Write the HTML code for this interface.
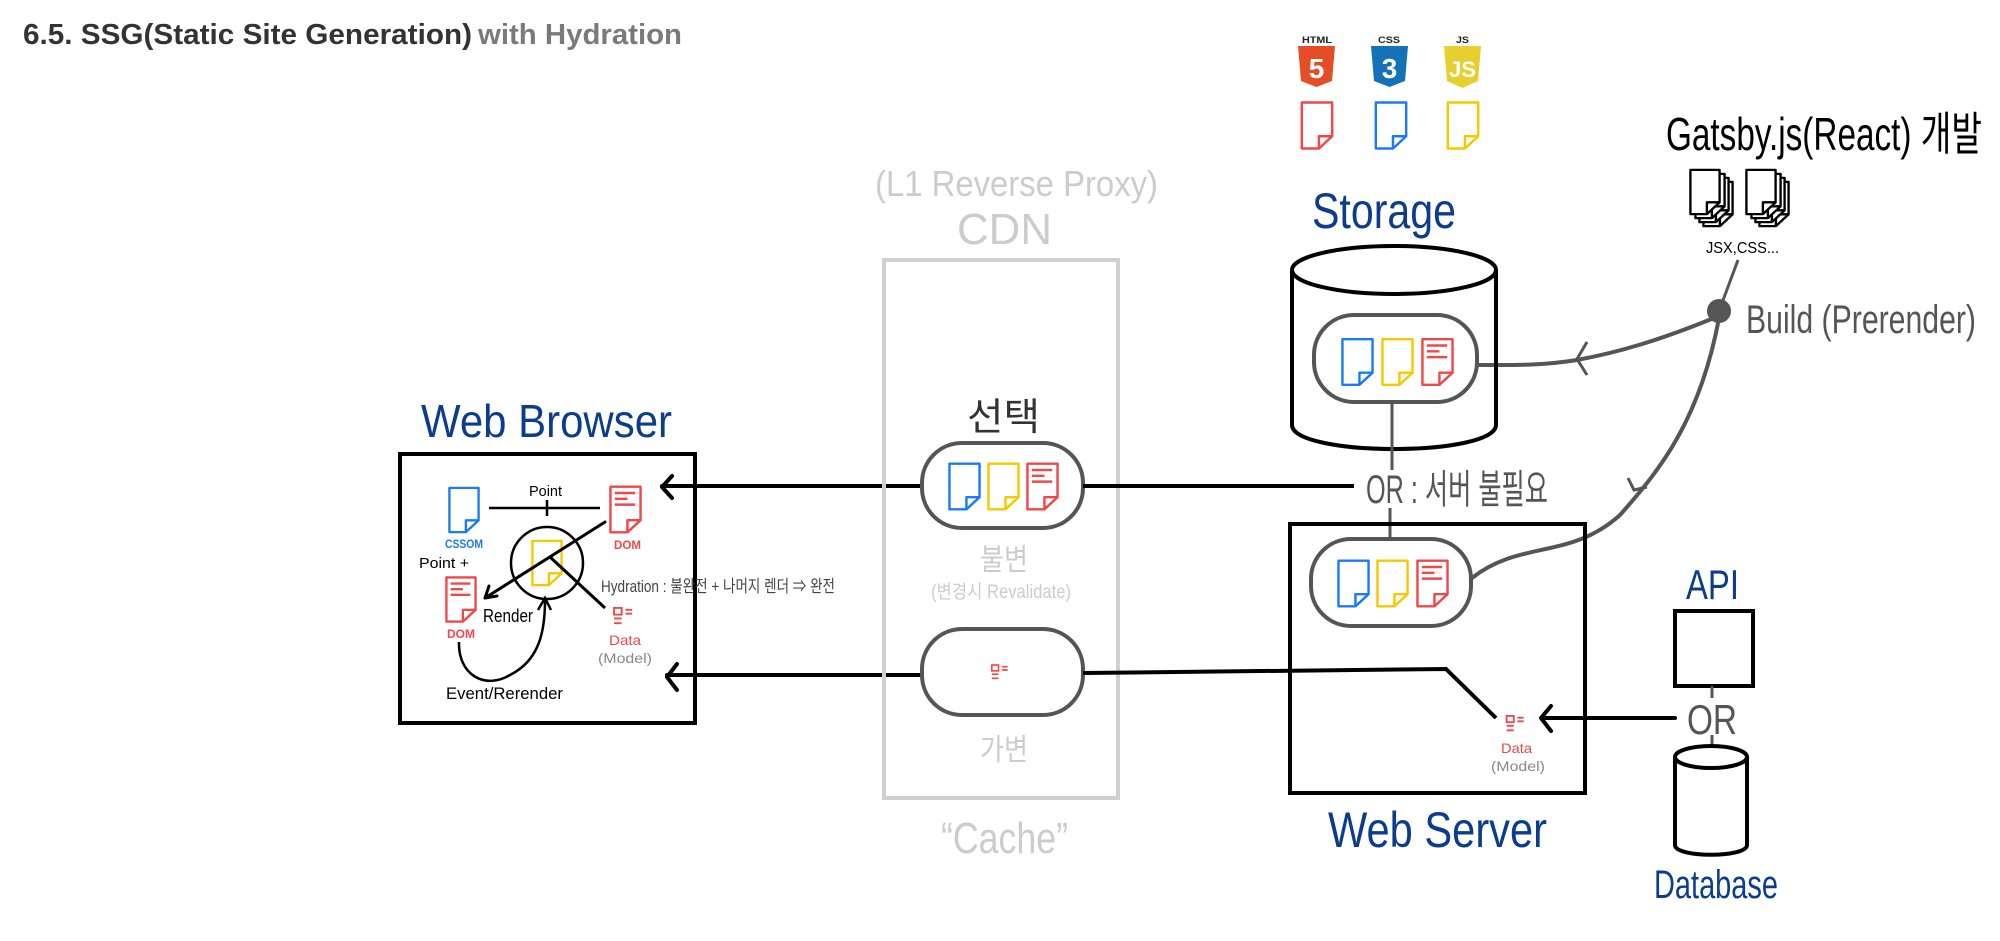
<!DOCTYPE html>
<html><head><meta charset="utf-8"><style>
html,body{margin:0;padding:0;background:#fff;width:2000px;height:941px;overflow:hidden}
svg{display:block}
text{font-family:"Liberation Sans","Noto Sans CJK KR",sans-serif}
</style></head><body>
<svg width="2000" height="941" viewBox="0 0 2000 941" xmlns="http://www.w3.org/2000/svg">
<defs>
<symbol id="doc" viewBox="0 0 34 50" overflow="visible">
<path d="M1.5,1.5 H32.5 V36 L19,48.5 H1.5 Z M19,48.5 V36 H32.5" fill="#fff" stroke="currentColor" stroke-width="2.5" stroke-linejoin="round"/>
</symbol>
<symbol id="docl" viewBox="0 0 34 50" overflow="visible">
<path d="M1.5,1.5 H32.5 V36 L19,48.5 H1.5 Z M19,48.5 V36 H32.5" fill="#fff" stroke="currentColor" stroke-width="2.5" stroke-linejoin="round"/>
<path d="M6,8 H27 M6,14 H19 M6,20 H27" stroke="currentColor" stroke-width="2.5"/>
</symbol>
<symbol id="data" viewBox="0 0 24 20" overflow="visible">
<rect x="1" y="1" width="8" height="7" fill="none" stroke="currentColor" stroke-width="2"/>
<path d="M13,3 H20 M13,7 H20 M1,12 H9 M1,17 H9" stroke="currentColor" stroke-width="2"/>
</symbol>
</defs>

<!-- Title -->
<text x="23" y="44" font-size="29" font-weight="bold" fill="#333" textLength="449" lengthAdjust="spacingAndGlyphs">6.5. SSG(Static Site Generation)</text>
<text x="478" y="44" font-size="29" font-weight="bold" fill="#7a7a7a" textLength="204" lengthAdjust="spacingAndGlyphs">with Hydration</text>

<!-- Web Browser -->
<text x="421" y="437" font-size="46" fill="#0b3d8c" textLength="251" lengthAdjust="spacingAndGlyphs">Web Browser</text>
<rect x="400" y="454" width="295" height="269" fill="none" stroke="#000" stroke-width="4"/>
<use href="#doc" x="448" y="486" width="32" height="48" style="color:#1a7cf5"/>
<text x="445" y="548" font-size="12" font-weight="bold" fill="#1a7cf5" textLength="38" lengthAdjust="spacingAndGlyphs">CSSOM</text>
<text x="529" y="496" font-size="15" fill="#000" textLength="33" lengthAdjust="spacingAndGlyphs">Point</text>
<path d="M489,508 H600 M547,500 V516" stroke="#000" stroke-width="2.5"/>
<use href="#docl" x="609" y="485" width="33" height="49" style="color:#f04848"/>
<text x="614" y="549" font-size="12" font-weight="bold" fill="#f04848" textLength="27" lengthAdjust="spacingAndGlyphs">DOM</text>
<text x="419" y="568" font-size="15" fill="#000" textLength="50" lengthAdjust="spacingAndGlyphs">Point +</text>
<use href="#docl" x="445" y="576" width="32" height="47" style="color:#f04848"/>
<text x="447" y="638" font-size="12" font-weight="bold" fill="#f04848" textLength="28" lengthAdjust="spacingAndGlyphs">DOM</text>
<circle cx="547" cy="563" r="36" fill="none" stroke="#000" stroke-width="2.5"/>
<use href="#doc" x="531" y="539" width="32" height="48" style="color:#f5c800"/>
<path d="M605,522 L485,598 M485,598 l4,-12 M485,598 l12,-2" stroke="#000" stroke-width="3" fill="none" stroke-linecap="round"/>
<path d="M550,557 L605,608" stroke="#000" stroke-width="3"/>
<text x="483" y="622" font-size="18" fill="#000" textLength="50" lengthAdjust="spacingAndGlyphs">Render</text>
<use href="#data" x="613" y="607" width="23" height="19" style="color:#f04848"/>
<text x="609" y="645" font-size="14" fill="#f04848" textLength="32" lengthAdjust="spacingAndGlyphs">Data</text>
<text x="598" y="663" font-size="14" fill="#888" textLength="54" lengthAdjust="spacingAndGlyphs">(Model)</text>
<text x="601" y="592" font-size="17" fill="#444" textLength="234" lengthAdjust="spacingAndGlyphs">Hydration : 불완전 + 나머지 렌더 ⇒ 완전</text>
<path d="M459,642 C458,675 485,690 510,675 C540,660 545,630 545,600 M538,610 l7,-12 l6,12" stroke="#000" stroke-width="2.5" fill="none"/>
<text x="446" y="699" font-size="17" fill="#000" textLength="117" lengthAdjust="spacingAndGlyphs">Event/Rerender</text>
<!-- arrows into browser -->
<path d="M922,486 H662 M672,476 L662,487 L672,498" stroke="#000" stroke-width="4" fill="none" stroke-linecap="round" stroke-linejoin="round"/>
<path d="M922,675 H667 M677,664 L667,677 L677,690" stroke="#000" stroke-width="4" fill="none" stroke-linecap="round" stroke-linejoin="round"/>

<!-- CDN -->
<text x="875" y="196" font-size="36" fill="#ccc" textLength="283" lengthAdjust="spacingAndGlyphs">(L1 Reverse Proxy)</text>
<text x="957" y="244" font-size="44" fill="#ccc" textLength="95" lengthAdjust="spacingAndGlyphs">CDN</text>
<rect x="884" y="260" width="234" height="538" fill="none" stroke="#d0d0d0" stroke-width="4"/>
<text x="941" y="853" font-size="44" fill="#ccc" textLength="127" lengthAdjust="spacingAndGlyphs">“Cache”</text>
<text x="967" y="430" font-size="38" fill="#333" textLength="73" lengthAdjust="spacingAndGlyphs">선택</text>
<rect x="922" y="443" width="161" height="85" rx="40" fill="#fff" stroke="#555" stroke-width="4"/>
<use href="#doc" x="948" y="462" width="33" height="49" style="color:#1a7cf5"/>
<use href="#doc" x="987" y="462" width="33" height="49" style="color:#f5c800"/>
<use href="#docl" x="1026" y="462" width="33" height="49" style="color:#f04848"/>
<text x="980" y="570" font-size="30" fill="#ccc" textLength="48" lengthAdjust="spacingAndGlyphs">불변</text>
<text x="931" y="598" font-size="19" fill="#ccc" textLength="140" lengthAdjust="spacingAndGlyphs">(변경시 Revalidate)</text>
<rect x="922" y="629" width="161" height="86" rx="40" fill="#fff" stroke="#555" stroke-width="4"/>
<use href="#data" x="991" y="664" width="20" height="17" style="color:#f04848"/>
<text x="980" y="760" font-size="30" fill="#ccc" textLength="48" lengthAdjust="spacingAndGlyphs">가변</text>

<!-- logos -->
<text x="1302" y="43" font-size="9" font-weight="bold" fill="#222" textLength="30" lengthAdjust="spacingAndGlyphs">HTML</text>
<path d="M1298,46 H1335 L1332,81 L1316.5,87 L1301,81 Z" fill="#e44d26"/>
<text x="1316.5" y="78" font-size="28" font-weight="bold" fill="#fff" text-anchor="middle">5</text>
<text x="1378" y="43" font-size="9" font-weight="bold" fill="#222" textLength="22" lengthAdjust="spacingAndGlyphs">CSS</text>
<path d="M1371,46 H1408 L1405,81 L1389.5,87 L1374,81 Z" fill="#1572b6"/>
<text x="1389.5" y="78" font-size="28" font-weight="bold" fill="#fff" text-anchor="middle">3</text>
<text x="1456" y="43" font-size="9" font-weight="bold" fill="#222" textLength="13" lengthAdjust="spacingAndGlyphs">JS</text>
<path d="M1444,46 H1481 L1478,81 L1462.5,88 L1447,81 Z" fill="#e8cf30"/>
<text x="1462.5" y="77" font-size="22" font-weight="bold" fill="#fff" text-anchor="middle">JS</text>
<use href="#doc" x="1300" y="101" width="34" height="49" style="color:#f04848"/>
<use href="#doc" x="1374" y="101" width="34" height="49" style="color:#1a7cf5"/>
<use href="#doc" x="1446" y="101" width="34" height="49" style="color:#f5c800"/>

<!-- Gatsby -->
<text x="1666" y="150" font-size="46" fill="#000" textLength="316" lengthAdjust="spacingAndGlyphs">Gatsby.js(React) 개발</text>
<g style="color:#000">
<use href="#doc" x="1702" y="178" width="32" height="52"/>
<use href="#doc" x="1698" y="174" width="32" height="52"/>
<use href="#doc" x="1694" y="170" width="32" height="52"/>
<use href="#doc" x="1689" y="166" width="32" height="52"/>
<use href="#doc" x="1758" y="178" width="32" height="52"/>
<use href="#doc" x="1754" y="174" width="32" height="52"/>
<use href="#doc" x="1750" y="170" width="32" height="52"/>
<use href="#doc" x="1745" y="166" width="32" height="52"/>
</g>
<text x="1706" y="253" font-size="16" fill="#000" textLength="73" lengthAdjust="spacingAndGlyphs">JSX,CSS...</text>
<path d="M1738,260 L1719,311" stroke="#555" stroke-width="3" fill="none"/>
<circle cx="1719" cy="311" r="12" fill="#555"/>
<text x="1746" y="333" font-size="40" fill="#555" textLength="230" lengthAdjust="spacingAndGlyphs">Build (Prerender)</text>
<path d="M1714,318 C1660,340 1620,352 1577,360 C1540,366 1510,365 1478,365" stroke="#555" stroke-width="4" fill="none"/>
<path d="M1587,342 L1577,359 L1587,375" stroke="#555" stroke-width="3" fill="none"/>
<path d="M1719,318 C1700,420 1660,470 1620,515 C1570,560 1520,540 1472,578" stroke="#555" stroke-width="4" fill="none"/>
<path d="M1628,478 L1634,490 L1647,487" stroke="#555" stroke-width="3" fill="none"/>

<!-- Storage -->
<text x="1312" y="228" font-size="50" fill="#0b3d8c" textLength="144" lengthAdjust="spacingAndGlyphs">Storage</text>
<path d="M1292,270 V425 C1292,440 1340,449 1394,449 C1448,449 1496,440 1496,425 V270" fill="none" stroke="#000" stroke-width="4"/>
<ellipse cx="1394" cy="270" rx="102" ry="24" fill="none" stroke="#000" stroke-width="4"/>
<rect x="1314" y="315" width="163" height="87" rx="40" fill="#fff" stroke="#555" stroke-width="4"/>
<use href="#doc" x="1341" y="337" width="33" height="50" style="color:#1a7cf5"/>
<use href="#doc" x="1381" y="337" width="33" height="50" style="color:#f5c800"/>
<use href="#docl" x="1421" y="337" width="33" height="50" style="color:#f04848"/>
<path d="M1392,402 V470" stroke="#555" stroke-width="3"/>

<!-- OR line -->
<path d="M1083,486 H1354" stroke="#000" stroke-width="4"/>
<text x="1366" y="503" font-size="40" fill="#555" textLength="182" lengthAdjust="spacingAndGlyphs">OR : 서버 불필요</text>
<path d="M1390,508 V539" stroke="#555" stroke-width="3"/>

<!-- Web Server -->
<rect x="1290" y="524" width="295" height="269" fill="none" stroke="#000" stroke-width="4"/>
<rect x="1311" y="539" width="160" height="87" rx="40" fill="#fff" stroke="#555" stroke-width="4"/>
<use href="#doc" x="1337" y="559" width="33" height="49" style="color:#1a7cf5"/>
<use href="#doc" x="1376" y="559" width="33" height="49" style="color:#f5c800"/>
<use href="#docl" x="1416" y="559" width="33" height="49" style="color:#f04848"/>
<path d="M1083,673 L1446,669 L1496,718" stroke="#000" stroke-width="4" fill="none"/>
<use href="#data" x="1505" y="715" width="23" height="18" style="color:#f04848"/>
<text x="1501" y="753" font-size="14" fill="#f04848" textLength="31" lengthAdjust="spacingAndGlyphs">Data</text>
<text x="1491" y="771" font-size="14" fill="#888" textLength="54" lengthAdjust="spacingAndGlyphs">(Model)</text>
<path d="M1675,718 H1543 M1551,706 L1541,718 L1551,731" stroke="#000" stroke-width="4" fill="none" stroke-linecap="round" stroke-linejoin="round"/>
<text x="1328" y="847" font-size="50" fill="#0b3d8c" textLength="219" lengthAdjust="spacingAndGlyphs">Web Server</text>

<!-- API / DB -->
<text x="1686" y="599" font-size="42" fill="#0b3d8c" textLength="53" lengthAdjust="spacingAndGlyphs">API</text>
<rect x="1675" y="611" width="78" height="75" fill="none" stroke="#000" stroke-width="4"/>
<path d="M1712,686 V698 M1712,735 V745" stroke="#555" stroke-width="3"/>
<text x="1687" y="734" font-size="42" fill="#555" textLength="50" lengthAdjust="spacingAndGlyphs">OR</text>
<path d="M1675,757 V845 C1675,858 1747,858 1747,845 V757" fill="none" stroke="#000" stroke-width="4"/>
<ellipse cx="1711" cy="757" rx="36" ry="11" fill="none" stroke="#000" stroke-width="4"/>
<text x="1654" y="898" font-size="40" fill="#0b3d8c" textLength="124" lengthAdjust="spacingAndGlyphs">Database</text>
</svg>
</body></html>
